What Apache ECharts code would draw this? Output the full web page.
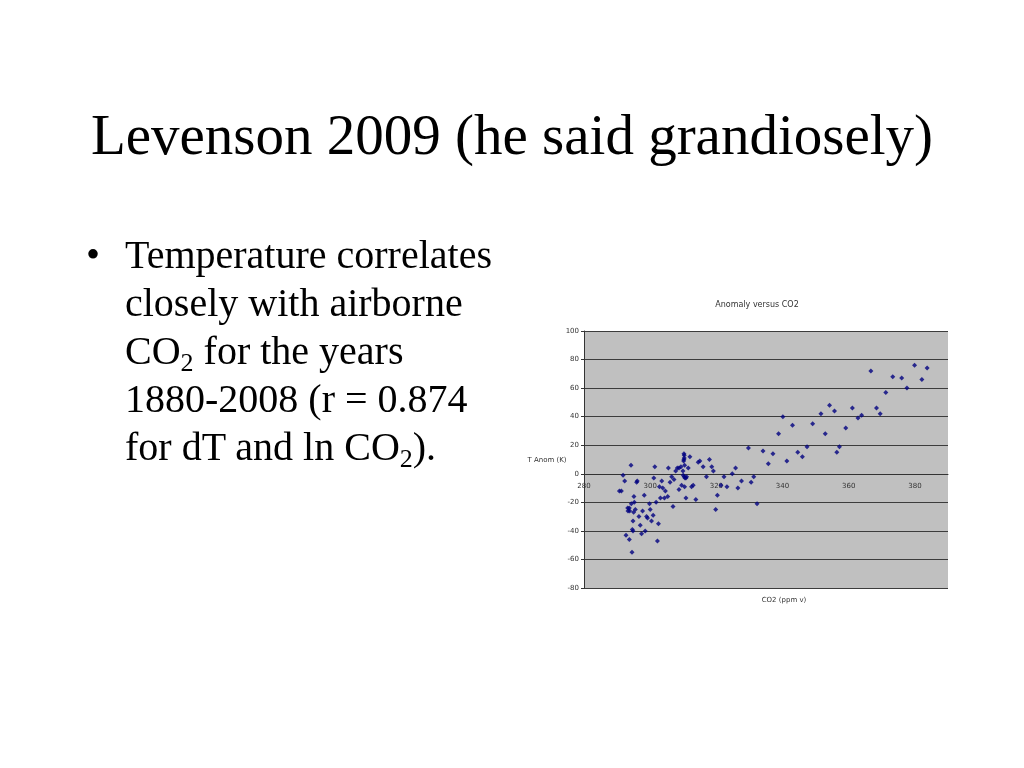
<!DOCTYPE html>
<html>
<head>
<meta charset="utf-8">
<script src="https://cdn.jsdelivr.net/npm/echarts@6/dist/echarts.min.js"></script>
<style>
  html, body { margin: 0; padding: 0; background: #fff; width: 1024px; height: 768px; overflow: hidden; }
  #chart { position: absolute; left: 0; top: 0; width: 1024px; height: 768px; }
  .slide { position: absolute; font-family: "Liberation Serif", "Times New Roman", serif; color: #000; }
  #title { left: 0; width: 1024px; top: 100px; text-align: center; font-size: 57px; line-height: 70px; white-space: nowrap; }
  #bullet { left: 86px; top: 231px; font-size: 40px; line-height: 48px; }
  #bullet .dot { position: absolute; left: 0; top: 0; }
  #bullet .txt { position: absolute; left: 39px; top: 0; white-space: nowrap; }
  sub { font-size: 26px; vertical-align: -7px; line-height: 0; }
</style>
</head>
<body>
<div id="chart"></div>
<div class="slide" id="title">Levenson 2009 (he said grandiosely)</div>
<div class="slide" id="bullet">
  <div class="dot">•</div>
  <div class="txt">Temperature correlates<br>closely with airborne<br>CO<sub>2</sub> for the years<br>1880-2008 (r = 0.874<br>for dT and ln CO<sub>2</sub>).</div>
</div>
<script>
// CO2 concentration (ppmv) for each point
const co2 = [
  290.7, 291.3, 291.8, 292.3, 294.2, 295.9, 296.1, 295.1, 298.2, 301.4,
  301.1, 303.5, 305.5, 293.2, 293.7, 293.3, 293.8, 294.3, 295.2, 295.5,
  295.0, 296.6, 297.7, 299.8, 300.0, 298.9, 299.2, 294.8, 300.4, 300.9,
  297.0, 297.4, 298.5, 294.6, 294.8, 292.7, 293.7, 294.5, 302.5, 302.2,
  301.8, 302.8, 303.1, 304.3, 303.8, 304.6, 305.3, 306.0, 306.5, 307.2,
  306.9, 307.7, 308.2, 308.7, 308.7, 309.3, 309.5, 309.9, 310.2, 310.3,
  310.3, 310.2, 310.1, 310.4, 310.0, 310.3, 310.5, 310.8, 311.0, 310.4,
  310.8, 311.5, 312.0, 312.5, 313.0, 313.8, 314.5, 315.0, 316.0, 317.0,
  317.9, 318.6, 319.1, 319.8, 320.3, 321.4, 322.3, 323.2, 324.8, 325.8,
  326.5, 327.6, 329.7, 330.5, 331.3, 332.3, 334.1, 335.7, 337.1, 338.8,
  340.1, 341.3, 343.0, 344.6, 346.0, 347.4, 349.1, 351.6, 352.9, 354.2,
  355.7, 356.4, 357.2, 359.1, 361.1, 362.8, 363.9, 366.7, 368.4, 369.5,
  371.2, 373.3, 376.0, 377.6, 379.9, 382.1, 383.7
];
// Temperature anomaly (hundredths of K) for each point
const anomaly = [
  -12, -12, -1, -5, 6, -6, -5, -16, -15, 5,
  -3, -5, 4, -24, -24, -26, -26, -21, -20, -25,
  -27, -30, -26, -21, -25, -30, -31, -33, -33, -29,
  -36, -42, -40, -39, -40, -43, -46, -55, -35, -47,
  -20, -9, -17, -17, -10, -12, -16, -6, -2, -4,
  -23, 2, 4, 4, -11, 5, -8, 2, 14, 13,
  11, 10, 9, 6, -1, -2, -3, -3, -2, -9,
  -17, 4, 12, -9, -8, -18, 8, 9, 5, -2,
  10, 5, 2, -25, -15, -8, -2, -9, 0, 4,
  -10, -5, 18, -6, -2, -21, 16, 7, 14, 28,
  40, 9, 34, 15, 12, 19, 35, 42, 28, 48,
  44, 15, 19, 32, 46, 39, 41, 72, 46, 42,
  57, 68, 67, 60, 76, 66, 74
];
const xTicks = [280, 300, 320, 340, 360, 380];
const yTicks = [-80, -60, -40, -20, 0, 20, 40, 60, 80, 100];

const points = co2.map((c, i) => [c, anomaly[i]]);
const chart = echarts.init(document.getElementById('chart'), null, { renderer: 'canvas' });
const lab = { fontFamily: 'DejaVu Sans', fontSize: 7, color: '#333' };
chart.setOption({
  backgroundColor: 'transparent',
  animation: false,
  grid: { left: 584, top: 331, width: 364, height: 257 },
  xAxis: {
    type: 'value', min: 280, max: 390, interval: 20,
    axisLine: { onZero: true, lineStyle: { color: '#333', width: 1 } },
    axisTick: { show: false },
    axisLabel: Object.assign({ margin: -105, showMaxLabel: false,
      formatter: v => xTicks.includes(v) ? String(v) : '' }, lab),
    splitLine: { show: false }
  },
  yAxis: {
    type: 'value', min: -80, max: 100, interval: 20,
    axisLine: { show: true, onZero: false, lineStyle: { color: '#333', width: 1 } },
    axisTick: { show: true, length: 3, lineStyle: { color: '#333' } },
    axisLabel: Object.assign({ margin: 5,
      formatter: v => yTicks.includes(v) ? String(v) : '' }, lab),
    splitLine: { show: true, lineStyle: { color: '#3c3c3c', width: 1 } },
    splitArea: { show: false }
  },
  graphic: [
    { type: 'rect', z: -10, shape: { x: 584, y: 331, width: 364, height: 257 }, style: { fill: '#c0c0c0' }, silent: true },
    { type: 'text', style: { text: 'Anomaly versus CO2', x: 757, y: 305, align: 'center', verticalAlign: 'middle', font: '8px "DejaVu Sans"', fill: '#333' } },
    { type: 'text', style: { text: 'T Anom (K)', x: 547, y: 460, align: 'center', verticalAlign: 'middle', font: '7px "DejaVu Sans"', fill: '#333' } },
    { type: 'text', style: { text: 'CO2 (ppm v)', x: 784, y: 600, align: 'center', verticalAlign: 'middle', font: '7px "DejaVu Sans"', fill: '#333' } }
  ],
  series: [{
    type: 'scatter',
    data: points,
    symbol: 'diamond',
    symbolSize: 5,
    itemStyle: { color: '#000080' },
    z: 5
  }]
});
</script>
</body>
</html>
